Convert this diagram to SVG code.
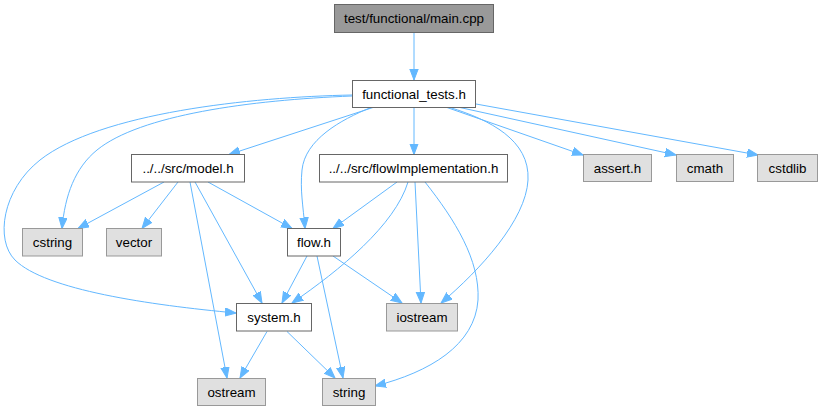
<svg xmlns="http://www.w3.org/2000/svg" width="822" height="411" viewBox="0 0 822 411">
<style>
.n rect{fill:#ffffff;stroke:#666666;stroke-width:1}
.g rect{fill:#e0e0e0;stroke:#999999;stroke-width:1}
.m rect{fill:#999999;stroke:#666666;stroke-width:1}
text{font-family:"Liberation Sans",Arial,sans-serif;font-size:13.33px;fill:#000000;text-anchor:middle}
#edges path{fill:none;stroke:#63b8ff;stroke-width:1;marker-end:url(#a)}
</style>
<defs>
<marker id="a" markerWidth="13" markerHeight="11" refX="11" refY="4.5" orient="auto" markerUnits="userSpaceOnUse">
<path d="M0,0.3 L11,4.5 L0,8.7 z" fill="#63b8ff" stroke="#63b8ff" stroke-width="1"/>
</marker>
</defs>
<rect width="822" height="411" fill="#ffffff"/>
<g id="edges">
<path d="M414,32.5 L414,80"/>
<path d="M373,107.5 L229,154.5"/>
<path d="M414,107.5 L414,154.5"/>
<path d="M447,107.5 L583,155"/>
<path d="M460,107.5 L676,155"/>
<path d="M476,104 L758,155"/>
<path d="M352,95 C250,97 100,113 40,160 C2,190 -5,240 15,260 C45,290 150,305 236,313"/>
<path d="M352,96 C250,100 140,115 97,150 C75,168 65,195 62,228.5"/>
<path d="M371,107.5 C340,120 305,140 302,170 C300,190 303,205 305,228.5"/>
<path d="M450,107.5 C490,120 530,140 528,180 C526,220 480,270 441,303"/>
<path d="M164,182 L78,228.5"/>
<path d="M178,182 L142,228.5"/>
<path d="M208,182 L292,228.5"/>
<path d="M195,182 L262,303"/>
<path d="M190,182 L227,378"/>
<path d="M397,182 L333,228.5"/>
<path d="M408,182 C395,225 340,270 292,303"/>
<path d="M415,182 L421,303"/>
<path d="M425,182 C455,220 480,260 478,300 C475,345 430,372 375,386"/>
<path d="M307,256 L282,303"/>
<path d="M333,256 L402,303"/>
<path d="M317,256 L343,378"/>
<path d="M267,331.5 L240,378"/>
<path d="M287,331.5 L335,378"/>
</g>
<g id="node-main" class="m"><rect x="334.5" y="4.5" width="159" height="28"/><text x="414" y="23">test/functional/main.cpp</text></g>
<g id="node-functional_tests" class="n"><rect x="352.5" y="80.5" width="123" height="27"/><text x="414" y="98.5">functional_tests.h</text></g>
<g id="node-model" class="n"><rect x="131.5" y="154.5" width="113" height="27.5"/><text x="188" y="173">../../src/model.h</text></g>
<g id="node-flowImplementation" class="n"><rect x="319.5" y="154.5" width="188" height="27.5"/><text x="413.5" y="173">../../src/flowImplementation.h</text></g>
<g id="node-assert" class="g"><rect x="583.5" y="154.5" width="68" height="27"/><text x="617.5" y="173">assert.h</text></g>
<g id="node-cmath" class="g"><rect x="676.5" y="154.5" width="57" height="27"/><text x="705" y="173">cmath</text></g>
<g id="node-cstdlib" class="g"><rect x="757.5" y="154.5" width="60" height="27"/><text x="787.5" y="173">cstdlib</text></g>
<g id="node-cstring" class="g"><rect x="22.5" y="228.5" width="60" height="27.5"/><text x="52.5" y="247">cstring</text></g>
<g id="node-vector" class="g"><rect x="106.5" y="228.5" width="55" height="27.5"/><text x="134" y="247">vector</text></g>
<g id="node-flow" class="n"><rect x="287.5" y="228.5" width="53" height="27.5"/><text x="314" y="247">flow.h</text></g>
<g id="node-system" class="n"><rect x="236.5" y="303.5" width="75" height="27.5"/><text x="274" y="322">system.h</text></g>
<g id="node-iostream" class="g"><rect x="386.5" y="303.5" width="71" height="27.5"/><text x="422" y="322">iostream</text></g>
<g id="node-ostream" class="g"><rect x="197.5" y="378.5" width="68" height="27"/><text x="231.5" y="397">ostream</text></g>
<g id="node-string" class="g"><rect x="322.5" y="378.5" width="53" height="27"/><text x="349" y="397">string</text></g>
</svg>
